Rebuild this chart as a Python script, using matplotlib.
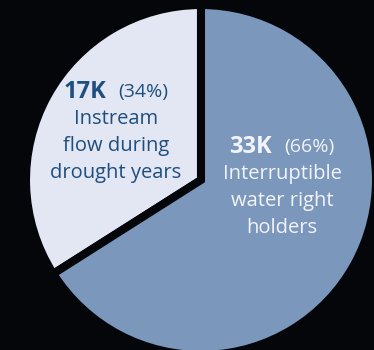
import matplotlib
matplotlib.use("Agg")
import matplotlib.pyplot as plt

# data
categories = ["Instream flow during drought years", "Interruptible water right holders"]
counts_k = [17, 33]
percents = [34, 66]
label_lines = [["Instream", "flow during", "drought years"],
               ["Interruptible", "water right", "holders"]]

colors = ["#e3e6f3", "#7b97bb"]
text_colors = ["#1f4f7e", "#f2f4fa"]
bg = "#050609"

W, H = 374, 350
fig = plt.figure(figsize=(W / 100, H / 100), dpi=100, facecolor=bg)
ax = fig.add_axes([0, 0, 1, 1])
ax.set_facecolor(bg)

ax.pie(percents, colors=colors, startangle=90, counterclock=True,
       center=(201, 170), radius=175, frame=True,
       wedgeprops=dict(edgecolor=bg, linewidth=5.8, joinstyle="miter"))
ax.set_xlim(0, W)
ax.set_ylim(0, H)
ax.set_aspect("equal")
ax.axis("off")

font = "Open Sans"
fs = 14.5
# label blocks: (center x, first line y) in pixel space (y up)
blocks = [(116, 350 - 92), (282, 350 - 147)]
gap = 27
for i in range(2):
    cx, y0 = blocks[i]
    c = text_colors[i]
    ax.text(cx - 10, y0, f"{counts_k[i]}K", ha="right", va="center", fontsize=17,
            fontweight="bold", color=c, family=font)
    ax.text(cx + 2, y0, f"({percents[i]}%)", ha="left", va="center",
            fontsize=14, color=c, family=font)
    for j, line in enumerate(label_lines[i]):
        ax.text(cx, y0 - gap * (j + 1), line, ha="center", va="center",
                fontsize=fs, color=c, family=font)

fig.savefig("out.png", dpi=100, facecolor=bg)
